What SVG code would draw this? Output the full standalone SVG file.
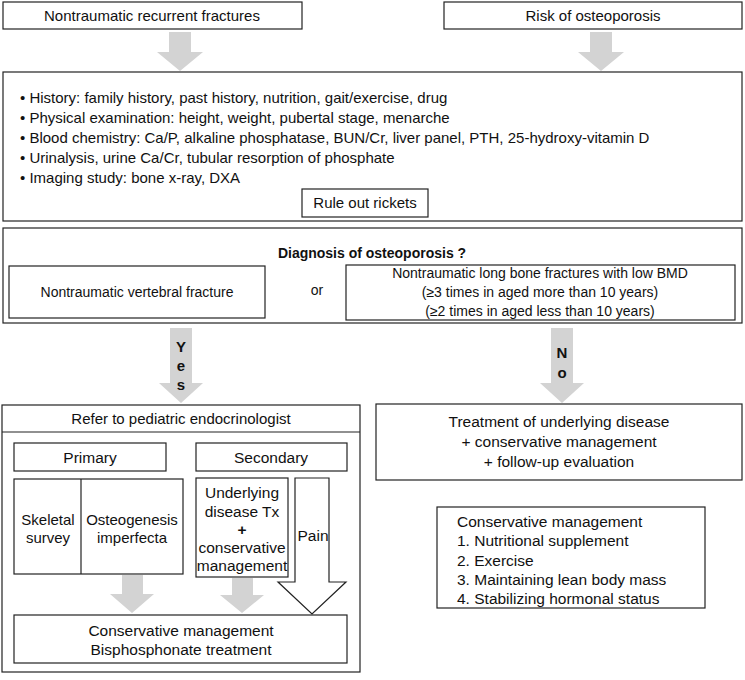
<svg xmlns="http://www.w3.org/2000/svg" width="745" height="680" viewBox="0 0 745 680">
<style>
.b{fill:#fff;stroke:#222;stroke-width:1.2}
.t{font-family:"Liberation Sans",Arial,sans-serif;font-size:15px;fill:#111}
.s{font-size:14px}
.l{font-size:15.5px}
.c{text-anchor:middle}
.bd{font-weight:bold}
.g{fill:#d3d3d3}
</style>
<rect width="745" height="680" fill="#fff"/>
<g id="n1"><rect class="b" x="3" y="2" width="299" height="27"/><text class="t c" x="152" y="21">Nontraumatic recurrent fractures</text></g>
<g id="n2"><rect class="b" x="444" y="2" width="298" height="27"/><text class="t c" x="593" y="21">Risk of osteoporosis</text></g>
<g id="n3"><rect class="b" x="3" y="72" width="739" height="149"/>
<text class="t" x="20" y="103">• History: family history, past history, nutrition, gait/exercise, drug</text>
<text class="t" x="20" y="123">• Physical examination: height, weight, pubertal stage, menarche</text>
<text class="t" x="20" y="143">• Blood chemistry: Ca/P, alkaline phosphatase, BUN/Cr, liver panel, PTH, 25-hydroxy-vitamin D</text>
<text class="t" x="20" y="163">• Urinalysis, urine Ca/Cr, tubular resorption of phosphate</text>
<text class="t" x="20" y="183">• Imaging study: bone x-ray, DXA</text>
</g>
<g id="n4"><rect class="b" x="302" y="189" width="126" height="28"/><text class="t c" x="365" y="208" font-size="15.5">Rule out rickets</text></g>
<g id="n5"><rect class="b" x="3" y="228" width="739" height="95"/><text class="t s c bd" x="372" y="258">Diagnosis of osteoporosis ?</text>
<text class="t s c" x="317" y="295">or</text></g>
<g id="n6"><rect class="b" x="9" y="266" width="256" height="52"/><text class="t s c" x="137" y="297">Nontraumatic vertebral fracture</text></g>
<g id="n7"><rect class="b" x="346" y="265" width="389" height="55"/>
<text class="t s c" x="540" y="278">Nontraumatic long bone fractures with low BMD</text>
<text class="t s c" x="540" y="297">(≥3 times in aged more than 10 years)</text>
<text class="t s c" x="540" y="316">(≥2 times in aged less than 10 years)</text></g>
<g id="n8"><rect class="b" x="2" y="405" width="358" height="267"/><line x1="2" y1="432" x2="360" y2="432" stroke="#222" stroke-width="1.2"/><text class="t c" x="181" y="424">Refer to pediatric endocrinologist</text></g>
<g id="n9"><rect class="b" x="14" y="443" width="152" height="28"/><text class="t l c" x="90" y="463">Primary</text></g>
<g id="n10"><rect class="b" x="196" y="443" width="151" height="28"/><text class="t l c" x="271" y="463">Secondary</text></g>
<g id="n11"><rect class="b" x="14" y="479" width="169" height="95"/><line x1="81" y1="479" x2="81" y2="574" stroke="#222" stroke-width="1.2"/>
<text class="t c" x="48" y="525">Skeletal</text><text class="t c" x="48" y="543">survey</text>
<text class="t c" x="132" y="525">Osteogenesis</text><text class="t c" x="132" y="543">imperfecta</text></g>
<g id="n12"><rect class="b" x="196" y="478" width="92" height="99"/>
<text class="t l c" x="242" y="498">Underlying</text>
<text class="t l c" x="242" y="517">disease Tx</text>
<text class="t l c bd" x="242" y="535">+</text>
<text class="t l c" x="242" y="553">conservative</text>
<text class="t l c" x="242" y="571">management</text></g>
<g id="n13"><rect class="b" x="14" y="615" width="333" height="48"/>
<text class="t l c" x="181" y="636">Conservative management</text>
<text class="t l c" x="181" y="655">Bisphosphonate treatment</text></g>
<g id="n14"><rect class="b" x="376" y="404" width="366" height="76"/>
<text class="t l c" x="559" y="427">Treatment of underlying disease</text>
<text class="t l c" x="559" y="447">+ conservative management</text>
<text class="t l c" x="559" y="467">+ follow-up evaluation</text></g>
<g id="n15"><rect class="b" x="437" y="507" width="268" height="101"/>
<text class="t l" x="457" y="527">Conservative management</text>
<text class="t l" x="457" y="546">1. Nutritional supplement</text>
<text class="t l" x="457" y="566">2. Exercise</text>
<text class="t l" x="457" y="585">3. Maintaining lean body mass</text>
<text class="t l" x="457" y="604">4. Stabilizing hormonal status</text></g>
<g id="connectors">
<polygon class="g" points="169,32 191,32 191,52 203,52 180,71 157,52 169,52"/>
<polygon class="g" points="590,32 612,32 612,52 624,52 601,71 578,52 590,52"/>
<polygon class="g" points="170,328 192,328 192,383 203,383 181,403 159,383 170,383"/>
<polygon class="g" points="551,328 573,328 573,383 584,383 562,403 540,383 551,383"/>
<text class="t c bd" x="181" y="352">Y</text>
<text class="t c bd" x="181" y="371">e</text>
<text class="t c bd" x="181" y="390">s</text>
<text class="t c bd" x="562" y="358">N</text>
<text class="t c bd" x="562" y="378">o</text>
<polygon class="g" points="122,575 143,575 143,594 154,594 132,613 110,594 122,594"/>
<polygon class="g" points="232,578 253,578 253,595 264,595 242,613 220,595 232,595"/>
<polygon fill="#fff" stroke="#222" stroke-width="1.2" points="295,478 329,478 329,582 346,582 312,614 278,582 295,582"/>
<text class="t l c" x="313" y="541">Pain</text>
</g>
</svg>
